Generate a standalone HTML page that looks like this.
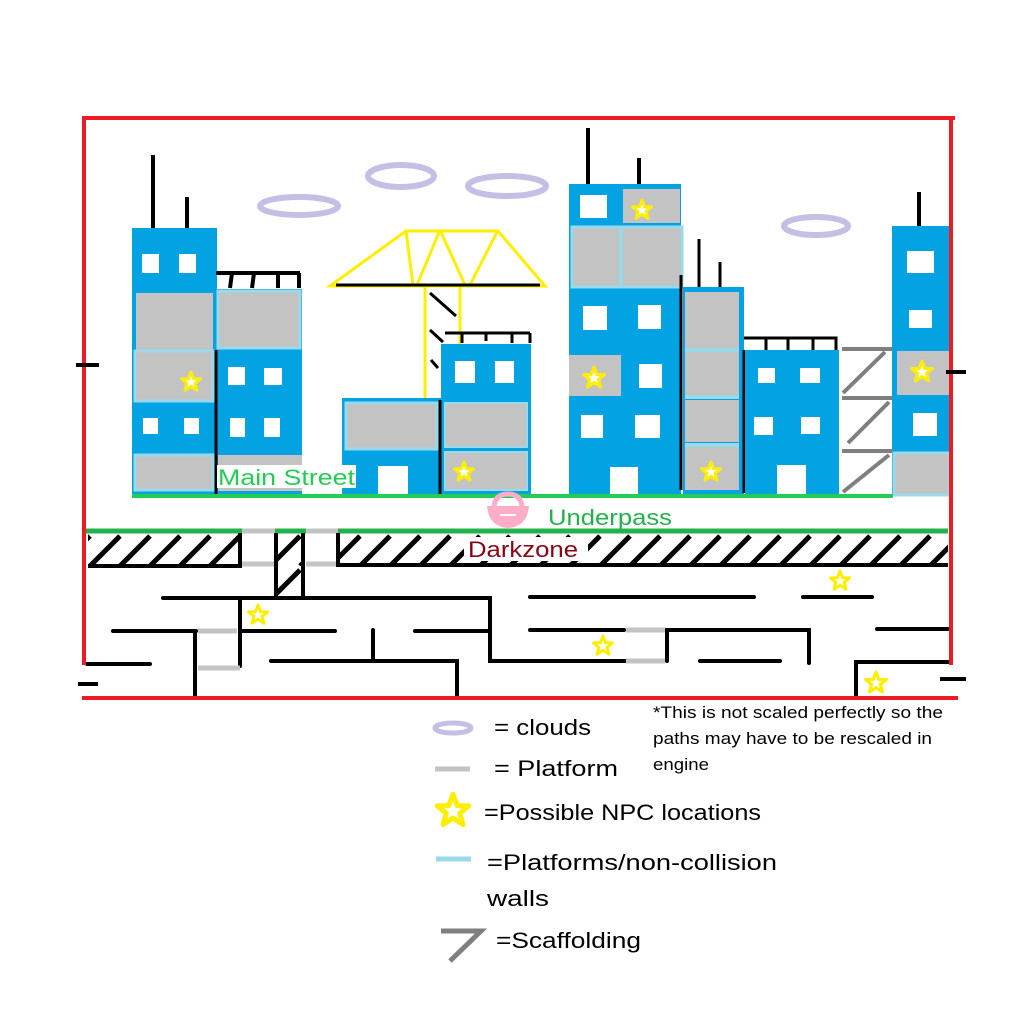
<!DOCTYPE html>
<html><head><meta charset="utf-8"><style>
html,body{margin:0;padding:0;background:#fff;}
svg{display:block;font-family:"Liberation Sans",sans-serif;}
</style></head><body>
<svg width="1024" height="1024" viewBox="0 0 1024 1024">
<defs>
<symbol id="star" viewBox="-12 -12 24 24"><path d="M0,-10 L2.6,-3.2 L9.5,-3.1 L4.1,1.3 L6,8.2 L0,4.2 L-6,8.2 L-4.1,1.3 L-9.5,-3.1 L-2.6,-3.2 Z" fill="#fff" stroke="#ffee00" stroke-width="3" stroke-linejoin="round"/></symbol>
<pattern id="hatch" patternUnits="userSpaceOnUse" width="30" height="34" patternTransform="translate(0,532)"><line x1="0" y1="34" x2="30" y2="4" stroke="#000" stroke-width="5"/><line x1="-30" y1="34" x2="0" y2="4" stroke="#000" stroke-width="5"/><line x1="30" y1="34" x2="60" y2="4" stroke="#000" stroke-width="5"/></pattern>
</defs>

<g fill="none" stroke="#c6bfe5" stroke-width="6">
<ellipse cx="299" cy="206" rx="39" ry="9"/>
<ellipse cx="401" cy="176" rx="33" ry="11"/>
<ellipse cx="507" cy="186" rx="39" ry="10"/>
<ellipse cx="816" cy="226" rx="32" ry="9"/>
</g>

<g>
<line x1="153" y1="155" x2="153" y2="228" stroke="#000" stroke-width="4"/>
<line x1="187" y1="197" x2="187" y2="228" stroke="#000" stroke-width="4"/>
<rect x="132" y="228" width="85" height="268" fill="#03a3e3"/>
<rect x="142" y="254" width="17" height="19" fill="#fff"/><rect x="179" y="254" width="17" height="19" fill="#fff"/>
<rect x="136" y="293" width="77" height="57" fill="#c3c3c3"/>
<rect x="135" y="351" width="78" height="50" fill="#c3c3c3" stroke="#99d9ea" stroke-width="3"/>
<rect x="143" y="418" width="15" height="16" fill="#fff"/><rect x="184" y="418" width="15" height="16" fill="#fff"/>
<rect x="135" y="455" width="78" height="35" fill="#c3c3c3" stroke="#99d9ea" stroke-width="3"/>
<use href="#star" x="179" y="370" width="24" height="24"/>
</g>
<g>
<path d="M216,273 H300 M232,273 L230,288 M254,273 L252,288 M278,273 L278,288 M299,273 V288" stroke="#000" stroke-width="4" fill="none"/>
<rect x="216" y="289" width="86" height="207" fill="#03a3e3"/>
<rect x="218" y="291" width="82" height="57" fill="#c3c3c3" stroke="#99d9ea" stroke-width="3"/>
<rect x="228" y="367" width="17" height="18" fill="#fff"/><rect x="264" y="368" width="18" height="17" fill="#fff"/>
<rect x="230" y="418" width="15" height="19" fill="#fff"/><rect x="264" y="418" width="16" height="19" fill="#fff"/>
<rect x="218" y="455" width="84" height="36" fill="#c3c3c3"/>
<line x1="216" y1="350" x2="216" y2="495" stroke="#000" stroke-width="3"/>
</g>

<g fill="none">
<path d="M330,286 L406,231 H498 L545,286 Z M406,231 L413,285 M440,230 L417,285 M440,230 L465,285 M498,230 L470,285" stroke="#ffee00" stroke-width="3"/>
<line x1="336" y1="285" x2="540" y2="285" stroke="#000" stroke-width="3"/>
<line x1="425" y1="287" x2="425" y2="398" stroke="#ffee00" stroke-width="3"/>
<line x1="460" y1="287" x2="460" y2="345" stroke="#ffee00" stroke-width="3"/>
<path d="M430,293 L456,316 M430,330 L443,342 M431,360 L438,368" stroke="#000" stroke-width="3"/>
</g>
<g>
<rect x="342" y="398" width="99" height="98" fill="#03a3e3"/>
<rect x="346" y="403" width="91" height="46" fill="#c3c3c3" stroke="#99d9ea" stroke-width="3"/>
<rect x="378" y="466" width="30" height="29" fill="#fff"/>
</g>
<g>
<path d="M445,333 H530 M462,333 V343 M486,333 V341 M512,333 V343 M530,333 V343" stroke="#000" stroke-width="3" fill="none"/>
<rect x="441" y="344" width="90" height="152" fill="#03a3e3"/>
<rect x="455" y="361" width="20" height="22" fill="#fff"/><rect x="495" y="361" width="19" height="22" fill="#fff"/>
<rect x="445" y="403" width="82" height="44" fill="#c3c3c3" stroke="#99d9ea" stroke-width="2"/>
<rect x="445" y="452" width="82" height="38" fill="#c3c3c3" stroke="#99d9ea" stroke-width="2"/>
<use href="#star" x="452" y="460" width="24" height="24"/>
<line x1="440" y1="400" x2="440" y2="495" stroke="#000" stroke-width="3"/>
</g>
<rect x="217" y="465" width="139" height="23" fill="#fff"/>
<text x="218" y="485" font-size="22" fill="#22cc55" textLength="137" lengthAdjust="spacingAndGlyphs">Main Street</text>

<g>
<line x1="588" y1="128" x2="588" y2="184" stroke="#000" stroke-width="4"/>
<line x1="639" y1="158" x2="639" y2="184" stroke="#000" stroke-width="4"/>
<rect x="569" y="184" width="112" height="312" fill="#03a3e3"/>
<rect x="580" y="195" width="27" height="23" fill="#fff"/>
<rect x="623" y="189" width="57" height="34" fill="#c3c3c3"/>
<use href="#star" x="630" y="198" width="24" height="24"/>
<rect x="572" y="227" width="110" height="60" fill="#c3c3c3" stroke="#99d9ea" stroke-width="3"/>
<line x1="621" y1="227" x2="621" y2="287" stroke="#99d9ea" stroke-width="4"/>
<rect x="583" y="306" width="24" height="24" fill="#fff"/><rect x="638" y="305" width="23" height="24" fill="#fff"/>
<rect x="569" y="355" width="52" height="41" fill="#c3c3c3"/>
<use href="#star" x="581" y="365" width="26" height="26"/>
<rect x="639" y="364" width="23" height="24" fill="#fff"/>
<rect x="581" y="415" width="22" height="23" fill="#fff"/><rect x="635" y="415" width="25" height="23" fill="#fff"/>
<rect x="610" y="467" width="28" height="29" fill="#fff"/>
</g>
<g>
<line x1="699" y1="239" x2="699" y2="287" stroke="#000" stroke-width="3"/>
<line x1="720" y1="262" x2="720" y2="287" stroke="#000" stroke-width="3"/>
<rect x="683" y="287" width="61" height="209" fill="#03a3e3"/>
<rect x="685" y="292" width="54" height="56" fill="#c3c3c3"/>
<rect x="685" y="352" width="54" height="44" fill="#c3c3c3"/>
<rect x="685" y="400" width="54" height="42" fill="#c3c3c3"/>
<rect x="685" y="447" width="54" height="43" fill="#c3c3c3"/>
<path d="M685,350 H739 M685,397 H739 M685,445 H739" stroke="#99d9ea" stroke-width="4"/>
<use href="#star" x="699" y="460" width="24" height="24"/>
<line x1="681" y1="275" x2="681" y2="490" stroke="#000" stroke-width="3"/>
<line x1="744" y1="350" x2="744" y2="493" stroke="#000" stroke-width="3"/>
</g>
<g>
<path d="M744,338 H836 V350 M766,338 V350 M788,338 V350 M813,338 V350" stroke="#000" stroke-width="3" fill="none"/>
<rect x="745" y="350" width="94" height="146" fill="#03a3e3"/>
<rect x="758" y="368" width="17" height="15" fill="#fff"/><rect x="800" y="368" width="20" height="15" fill="#fff"/>
<rect x="754" y="417" width="19" height="18" fill="#fff"/><rect x="801" y="417" width="19" height="17" fill="#fff"/>
<rect x="777" y="465" width="29" height="31" fill="#fff"/>
</g>
<g stroke="#7f7f7f" stroke-width="4" fill="none">
<path d="M842,349 H893 M885,352 L843,393 M842,398 H893 M889,402 L848,443 M842,451 H893 M889,455 L843,492"/>
</g>
<g>
<line x1="919" y1="192" x2="919" y2="226" stroke="#000" stroke-width="4"/>
<rect x="892" y="226" width="57" height="270" fill="#03a3e3"/>
<rect x="907" y="251" width="27" height="22" fill="#fff"/>
<rect x="909" y="310" width="23" height="18" fill="#fff"/>
<rect x="897" y="351" width="52" height="44" fill="#c3c3c3"/>
<use href="#star" x="909" y="359" width="26" height="26"/>
<rect x="913" y="413" width="24" height="23" fill="#fff"/>
<rect x="894" y="453" width="55" height="42" fill="#c3c3c3" stroke="#99d9ea" stroke-width="3"/>
</g>

<line x1="132" y1="496" x2="893" y2="496" stroke="#22cc55" stroke-width="4"/>

<g>
<path d="M487,506 H529 Q527,527 508,528 Q489,527 487,506 Z" fill="#ffadc9"/>
<path d="M494,507 Q495,494 508,494 Q521,494 522,507" fill="none" stroke="#ffadc9" stroke-width="5"/>
<line x1="500" y1="515" x2="516" y2="515" stroke="#fff" stroke-width="2"/>
</g>
<text x="548" y="525" font-size="22" fill="#22b14c" textLength="124" lengthAdjust="spacingAndGlyphs">Underpass</text>
<line x1="86" y1="531" x2="948" y2="531" stroke="#22b14c" stroke-width="5"/>
<path d="M242,531 H275 M306,531 H338 M242,564 H275 M306,564 H337" stroke="#c3c3c3" stroke-width="5"/>

<g>
<rect x="88" y="534" width="152" height="32" fill="url(#hatch)"/>
<rect x="278" y="534" width="24" height="63" fill="url(#hatch)"/>
<rect x="340" y="534" width="608" height="31" fill="url(#hatch)"/>
<rect x="464" y="537" width="124" height="24" fill="#fff"/>
<path d="M88,566 H240 V533 M276,533 V597 M303,533 V597 M338,533 V565 H948" stroke="#000" stroke-width="4" fill="none"/>
</g>
<text x="468" y="557" font-size="22" fill="#880015" textLength="110" lengthAdjust="spacingAndGlyphs">Darkzone</text>

<g stroke="#000" stroke-width="4" fill="none" stroke-linecap="round">
<path d="M163,598 H490 V661 H627 M415,631 H490"/>
<path d="M240,598 V666"/>
<path d="M113,631 H196 M240,631 H335"/>
<path d="M195,631 V697"/>
<path d="M373,630 V660 M271,661 H457 V695"/>
<path d="M87,664 H150"/>
<path d="M530,597 H754 M530,630 H624"/>
<path d="M667,661 V630 H809 V663"/>
<path d="M700,661 H780"/>
<path d="M803,597 H872"/>
<path d="M877,629 H948"/>
<path d="M856,696 V662 H948"/>
</g>
<path d="M198,631 H237 M198,668 H240 M626,630 H665 M626,661 H665" stroke="#c3c3c3" stroke-width="5"/>
<g>
<use href="#star" x="246" y="603" width="24" height="24"/>
<use href="#star" x="591" y="634" width="24" height="24"/>
<use href="#star" x="828" y="569" width="24" height="24"/>
<use href="#star" x="863" y="670" width="26" height="26"/>
</g>

<g stroke="#ed1c24" stroke-width="4" fill="none">
<path d="M82,118 H955 M84,118 V665 M951,118 V665 M82,698 H958"/>
</g>
<path d="M76,365 H99 M946,372 H966 M78,684 H98 M940,679 H966" stroke="#000" stroke-width="4"/>

<g>
<ellipse cx="453" cy="728" rx="18" ry="5" fill="none" stroke="#c6bfe5" stroke-width="5"/>
<text x="494" y="735" font-size="22" fill="#000" textLength="97" lengthAdjust="spacingAndGlyphs">= clouds</text>
<line x1="435" y1="769" x2="470" y2="769" stroke="#c3c3c3" stroke-width="5"/>
<text x="494" y="776" font-size="22" fill="#000" textLength="124" lengthAdjust="spacingAndGlyphs">= Platform</text>
<use href="#star" x="433" y="791" width="40" height="40"/>
<text x="484" y="820" font-size="22" fill="#000" textLength="277" lengthAdjust="spacingAndGlyphs">=Possible NPC locations</text>
<line x1="436" y1="859" x2="471" y2="859" stroke="#99d9ea" stroke-width="5"/>
<text x="487" y="870" font-size="22" fill="#000" textLength="290" lengthAdjust="spacingAndGlyphs">=Platforms/non-collision</text>
<text x="487" y="906" font-size="22" fill="#000" textLength="62" lengthAdjust="spacingAndGlyphs">walls</text>
<path d="M441,931 H481 L450,961" stroke="#7f7f7f" stroke-width="5" fill="none"/>
<text x="496" y="948" font-size="22" fill="#000" textLength="145" lengthAdjust="spacingAndGlyphs">=Scaffolding</text>
<text x="653" y="718" font-size="17" fill="#000" textLength="290" lengthAdjust="spacingAndGlyphs">*This is not scaled perfectly so the</text>
<text x="653" y="744" font-size="17" fill="#000" textLength="279" lengthAdjust="spacingAndGlyphs">paths may have to be rescaled in</text>
<text x="653" y="770" font-size="17" fill="#000" textLength="56" lengthAdjust="spacingAndGlyphs">engine</text>
</g>
</svg>
</body></html>
